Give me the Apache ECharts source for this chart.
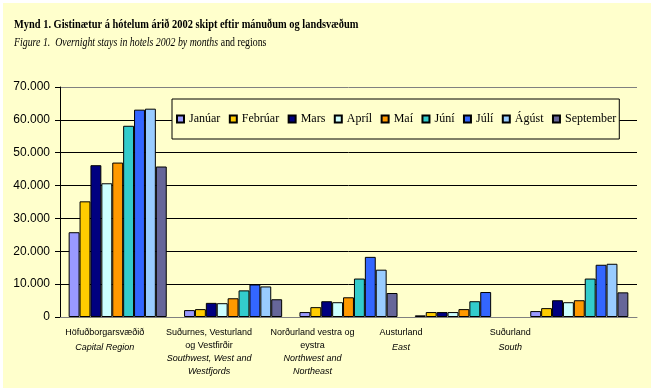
<!DOCTYPE html>
<html>
<head>
<meta charset="utf-8">
<script src="https://cdn.jsdelivr.net/npm/echarts@6/dist/echarts.min.js"></script>
<style>
html,body{margin:0;padding:0;background:#ffffff;}
#chart{width:654px;height:391px;}
</style>
</head>
<body>
<div id="chart"></div>
<script>
const regionsIs = ['Höfuðborgarsvæðið', 'Suðurnes, Vesturland\nog Vestfirðir', 'Norðurland vestra og\neystra', 'Austurland', 'Suðurland'];
const regionsEn = ['Capital Region', 'Southwest, West and\nWestfjords', 'Northwest and\nNortheast', 'East', 'South'];
const months = ['Janúar', 'Febrúar', 'Mars', 'Apríl', 'Maí', 'Júní', 'Júlí', 'Ágúst', 'September'];
const colors = ['#9999FF', '#FFCC00', '#000080', '#CCFFFF', '#FF9900', '#33CCCC', '#3366FF', '#99CCFF', '#666699'];
// values per month, one entry per region
const janúar    = [25800, 2100, 1500, 500, 1800];
const febrúar   = [35200, 2400, 3000, 1500, 2700];
const mars      = [46200, 4300, 4800, 1500, 5100];
const apríl     = [40700, 4200, 4500, 1500, 4500];
const maí       = [47000, 5700, 6000, 2400, 5100];
const júní      = [58200, 8100, 11700, 4800, 11700];
const júlí      = [63100, 9900, 18300, 7600, 15900];
const ágúst     = [63400, 9300, 14400, null, 16200];
const september = [45800, 5400, 7300, null, 7500];
const monthValues = [janúar, febrúar, mars, apríl, maí, júní, júlí, ágúst, september];
const yTicks = [0, 10000, 20000, 30000, 40000, 50000, 60000, 70000];

const labelShift = [13, 24, 36, 63, 69];
const rich = {};
regionsIs.forEach((_, i) => {
  const singleLine = regionsIs[i].indexOf('\n') < 0;
  rich['i' + i] = {fontFamily: 'Liberation Sans, Arial', fontSize: 9, color: '#000', lineHeight: 13, padding: [0, 2 * labelShift[i], 0, 0]};
  rich['e' + i] = {fontFamily: 'Liberation Sans, Arial', fontSize: 9, fontStyle: 'italic', color: '#000', lineHeight: singleLine ? 17 : 13, padding: [0, 2 * labelShift[i], 0, 0]};
});
const catKeys = regionsIs.map((r, i) => r + '|' + regionsEn[i]);

const chart = echarts.init(document.getElementById('chart'));
chart.setOption({
  animation: false,
  backgroundColor: '#ffffff',
  graphic: [{
    type: 'rect', z: -10, silent: true,
    shape: {x: 3, y: 3, width: 648, height: 385},
    style: {fill: '#FFFFCC'}
  }, {
    type: 'text', x: 14, y: 25, scaleX: 0.8, silent: true,
    style: {
      text: 'Mynd 1. Gistinætur á hótelum árið 2002 skipt eftir mánuðum og landsvæðum',
      font: 'bold 13px "Liberation Serif"', fill: '#000', verticalAlign: 'middle'
    }
  }, {
    type: 'text', x: 14, y: 43, scaleX: 0.82, silent: true,
    style: {
      text: '{it|Figure 1.  Overnight stays in hotels 2002 by months} {n|and regions}',
      verticalAlign: 'middle',
      rich: {
        it: {fontFamily: 'Liberation Serif', fontStyle: 'italic', fontWeight: 'normal', fontSize: 12, fill: '#000'},
        n: {fontFamily: 'Liberation Serif', fontStyle: 'normal', fontWeight: 'normal', fontSize: 12, fill: '#000'}
      }
    }
  }],
  legend: {
    data: months,
    left: 172, top: 99,
    padding: [14, 3, 14, 4],
    itemGap: 8.5,
    itemWidth: 7, itemHeight: 7,
    icon: 'rect',
    backgroundColor: '#FFFFCC',
    borderColor: '#000', borderWidth: 1,
    textStyle: {fontFamily: 'Liberation Serif', fontSize: 12, color: '#000'}
  },
  grid: {left: 60, right: 17, top: 87, bottom: 74, show: false, containLabel: false, outerBoundsMode: 'none'},
  xAxis: {
    type: 'category',
    data: catKeys,
    axisLine: {lineStyle: {color: '#808080', width: 1}},
    axisTick: {show: false},
    axisLabel: {
      interval: 0, margin: 9, hideOverlap: false,
      formatter: (v) => {
        const i = catKeys.indexOf(v);
        const a = regionsIs[i].split('\n').map(s => '{i' + i + '|' + s + '}');
        const b = regionsEn[i].split('\n').map(s => '{e' + i + '|' + s + '}');
        return a.concat(b).join('\n');
      },
      rich: rich
    }
  },
  yAxis: {
    type: 'value', min: 0, max: 70000, interval: 10000,
    axisLine: {show: true, lineStyle: {color: '#000', width: 1}},
    axisTick: {show: true, length: 5, lineStyle: {color: '#000'}},
    splitLine: {lineStyle: {color: ['#000', '#000', '#000', '#000', '#000', '#000', '#000', '#808080'], width: 1}},
    axisLabel: {
      margin: 10,
      fontFamily: 'Liberation Sans, Arial', fontSize: 12, color: '#000',
      formatter: v => yTicks.indexOf(v) >= 0 ? (v === 0 ? '0' : (v / 1000) + '.000') : ''
    }
  },
  series: months.map((m, k) => ({
    name: m,
    type: 'bar',
    data: monthValues[k],
    barGap: '0%',
    barCategoryGap: '15%',
    itemStyle: {color: colors[k], borderColor: '#000', borderWidth: 1}
  }))
});
</script>
</body>
</html>
